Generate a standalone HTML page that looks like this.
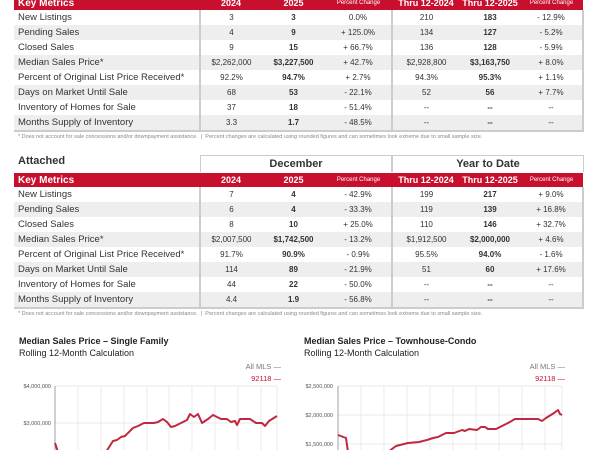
<!DOCTYPE html>
<html><head><style>
body{margin:0;width:600px;height:450px;overflow:hidden;background:#fff;font-family:"Liberation Sans",Arial,sans-serif;position:relative;color:#333}
.t{position:absolute;left:14px;width:569px;border-collapse:collapse;table-layout:fixed}
.t td{height:15px;padding:0;font-size:8px;text-align:center;white-space:nowrap}
.t td.l{text-align:left;padding-left:4px;font-size:9.5px;color:#333}
.t tr.s td{background:#eeeeee}
.t tr.h td{background:#c8102e;color:#fff;font-weight:bold;font-size:9px;height:14px}
.t tr.h td.pc{font-size:6px;font-weight:normal}
.t td.b{font-weight:bold}
.t td.d{border-right:2px solid #ccc}
.t td.r{border-right:2px solid #ccc}
.t td.pc{font-size:8px}
.fn{position:absolute;left:18px;font-size:5.5px;color:#888;white-space:nowrap}
.ab{position:absolute}
</style></head><body>
<table class="t" style="top:-4px">
<colgroup><col style="width:186px"><col style="width:62px"><col style="width:63px"><col style="width:67px"><col style="width:68px"><col style="width:60px"><col style="width:63px"></colgroup>
<tr class="h"><td class="l" style="font-size:10px;color:#fff">Key Metrics</td><td>2024</td><td>2025</td><td class="pc">Percent Change</td><td>Thru 12-2024</td><td>Thru 12-2025</td><td class="pc">Percent Change</td></tr>
<tr><td class="l d">New Listings</td><td>3</td><td class="b">3</td><td class="pc d">0.0%</td><td>210</td><td class="b">183</td><td class="pc r">- 12.9%</td></tr>
<tr class="s"><td class="l d">Pending Sales</td><td>4</td><td class="b">9</td><td class="pc d">+ 125.0%</td><td>134</td><td class="b">127</td><td class="pc r">- 5.2%</td></tr>
<tr><td class="l d">Closed Sales</td><td>9</td><td class="b">15</td><td class="pc d">+ 66.7%</td><td>136</td><td class="b">128</td><td class="pc r">- 5.9%</td></tr>
<tr class="s"><td class="l d">Median Sales Price*</td><td>$2,262,000</td><td class="b">$3,227,500</td><td class="pc d">+ 42.7%</td><td>$2,928,800</td><td class="b">$3,163,750</td><td class="pc r">+ 8.0%</td></tr>
<tr><td class="l d">Percent of Original List Price Received*</td><td>92.2%</td><td class="b">94.7%</td><td class="pc d">+ 2.7%</td><td>94.3%</td><td class="b">95.3%</td><td class="pc r">+ 1.1%</td></tr>
<tr class="s"><td class="l d">Days on Market Until Sale</td><td>68</td><td class="b">53</td><td class="pc d">- 22.1%</td><td>52</td><td class="b">56</td><td class="pc r">+ 7.7%</td></tr>
<tr><td class="l d">Inventory of Homes for Sale</td><td>37</td><td class="b">18</td><td class="pc d">- 51.4%</td><td>--</td><td class="b">--</td><td class="pc r">--</td></tr>
<tr class="s" style="border-bottom:2px solid #ccc"><td class="l d">Months Supply of Inventory</td><td>3.3</td><td class="b">1.7</td><td class="pc d">- 48.5%</td><td>--</td><td class="b">--</td><td class="pc r">--</td></tr>
</table>
<div class="fn" style="top:134px">* Does not account for sale concessions and/or downpayment assistance. &nbsp;|&nbsp; Percent changes are calculated using rounded figures and can sometimes look extreme due to small sample size.</div>

<div class="ab" style="left:18px;top:155px;font-size:11px;font-weight:bold;color:#333">Attached</div>
<div class="ab" style="left:200px;top:155px;width:190px;height:16px;border:1px solid #ccc;border-bottom:none;text-align:center;font-size:11px;font-weight:bold;line-height:16px">December</div>
<div class="ab" style="left:392px;top:155px;width:190px;height:16px;border:1px solid #ccc;border-bottom:none;text-align:center;font-size:11px;font-weight:bold;line-height:16px">Year to Date</div>
<table class="t" style="top:173px">
<colgroup><col style="width:186px"><col style="width:62px"><col style="width:63px"><col style="width:67px"><col style="width:68px"><col style="width:60px"><col style="width:63px"></colgroup>
<tr class="h"><td class="l" style="font-size:10px;color:#fff">Key Metrics</td><td>2024</td><td>2025</td><td class="pc">Percent Change</td><td>Thru 12-2024</td><td>Thru 12-2025</td><td class="pc">Percent Change</td></tr>
<tr><td class="l d">New Listings</td><td>7</td><td class="b">4</td><td class="pc d">- 42.9%</td><td>199</td><td class="b">217</td><td class="pc r">+ 9.0%</td></tr>
<tr class="s"><td class="l d">Pending Sales</td><td>6</td><td class="b">4</td><td class="pc d">- 33.3%</td><td>119</td><td class="b">139</td><td class="pc r">+ 16.8%</td></tr>
<tr><td class="l d">Closed Sales</td><td>8</td><td class="b">10</td><td class="pc d">+ 25.0%</td><td>110</td><td class="b">146</td><td class="pc r">+ 32.7%</td></tr>
<tr class="s"><td class="l d">Median Sales Price*</td><td>$2,007,500</td><td class="b">$1,742,500</td><td class="pc d">- 13.2%</td><td>$1,912,500</td><td class="b">$2,000,000</td><td class="pc r">+ 4.6%</td></tr>
<tr><td class="l d">Percent of Original List Price Received*</td><td>91.7%</td><td class="b">90.9%</td><td class="pc d">- 0.9%</td><td>95.5%</td><td class="b">94.0%</td><td class="pc r">- 1.6%</td></tr>
<tr class="s"><td class="l d">Days on Market Until Sale</td><td>114</td><td class="b">89</td><td class="pc d">- 21.9%</td><td>51</td><td class="b">60</td><td class="pc r">+ 17.6%</td></tr>
<tr><td class="l d">Inventory of Homes for Sale</td><td>44</td><td class="b">22</td><td class="pc d">- 50.0%</td><td>--</td><td class="b">--</td><td class="pc r">--</td></tr>
<tr class="s" style="border-bottom:2px solid #ccc"><td class="l d">Months Supply of Inventory</td><td>4.4</td><td class="b">1.9</td><td class="pc d">- 56.8%</td><td>--</td><td class="b">--</td><td class="pc r">--</td></tr>
</table>
<div class="fn" style="top:311px">* Does not account for sale concessions and/or downpayment assistance. &nbsp;|&nbsp; Percent changes are calculated using rounded figures and can sometimes look extreme due to small sample size.</div>

<svg class="ab" style="left:0;top:330px" width="600" height="120" viewBox="0 330 600 120" font-family="Liberation Sans, Arial, sans-serif">
<g font-size="9" fill="#222">
<text x="19" y="344" font-weight="bold">Median Sales Price – Single Family</text>
<text x="19" y="356">Rolling 12-Month Calculation</text>
<text x="304" y="344" font-weight="bold">Median Sales Price – Townhouse-Condo</text>
<text x="304" y="356">Rolling 12-Month Calculation</text>
</g>
<g font-size="7.5" text-anchor="end">
<text x="281" y="369" fill="#777">All MLS —</text>
<text x="281" y="381" fill="#c8102e">92118 —</text>
<text x="565" y="369" fill="#777">All MLS —</text>
<text x="565" y="381" fill="#c8102e">92118 —</text>
</g>
<g stroke="#e2e2e2" stroke-width="0.7">
<line x1="55" y1="386" x2="277" y2="386"/><line x1="55" y1="423" x2="277" y2="423"/>
<line x1="78" y1="386" x2="78" y2="450"/><line x1="101" y1="386" x2="101" y2="450"/><line x1="124" y1="386" x2="124" y2="450"/><line x1="147" y1="386" x2="147" y2="450"/><line x1="169" y1="386" x2="169" y2="450"/><line x1="192" y1="386" x2="192" y2="450"/><line x1="215" y1="386" x2="215" y2="450"/><line x1="238" y1="386" x2="238" y2="450"/><line x1="261" y1="386" x2="261" y2="450"/><line x1="277" y1="386" x2="277" y2="450"/>
<line x1="338" y1="386" x2="562" y2="386"/><line x1="338" y1="415" x2="562" y2="415"/><line x1="338" y1="444" x2="562" y2="444"/>
<line x1="361" y1="386" x2="361" y2="450"/><line x1="384" y1="386" x2="384" y2="450"/><line x1="407" y1="386" x2="407" y2="450"/><line x1="430" y1="386" x2="430" y2="450"/><line x1="453" y1="386" x2="453" y2="450"/><line x1="476" y1="386" x2="476" y2="450"/><line x1="499" y1="386" x2="499" y2="450"/><line x1="522" y1="386" x2="522" y2="450"/><line x1="545" y1="386" x2="545" y2="450"/><line x1="562" y1="386" x2="562" y2="450"/>
</g>
<line x1="55" y1="386" x2="55" y2="450" stroke="#888" stroke-width="0.8"/>
<line x1="338" y1="386" x2="338" y2="450" stroke="#888" stroke-width="0.8"/>
<g font-size="5.5" fill="#555" text-anchor="end">
<text x="51" y="388">$4,000,000</text><text x="51" y="425">$3,000,000</text>
<text x="333" y="388">$2,500,000</text><text x="333" y="417">$2,000,000</text><text x="333" y="446">$1,500,000</text>
</g>
<g fill="none" stroke="#c0283f" stroke-width="2" stroke-linejoin="round">
<polyline points="55,443 58,452 106,452 113,441 117,440 121,437 125,436 133,428 138,426 144,423 150,423 154,423 158,422 163,419 167,422 171,427 175,426 181,423 187,420 190,414 194,417 198,414 202,423 208,419 213,415 221,419 227,419 231,422 235,421 237,425 240,419 250,419 256,423 262,423 265,426 269,421 277,416"/>
<polyline points="338,435 346,438 348,452 388,452 396,446 408,443 419,442 427,440 433,438 438,437 446,433 454,433 462,430 465,431 469,429 477,430 481,427 485,427 488,429 496,429 500,427 508,423 515,419 531,419 538,419 542,421 546,418 554,413 558,410 560,414 562,415"/>
</g>
</svg>
</body></html>
